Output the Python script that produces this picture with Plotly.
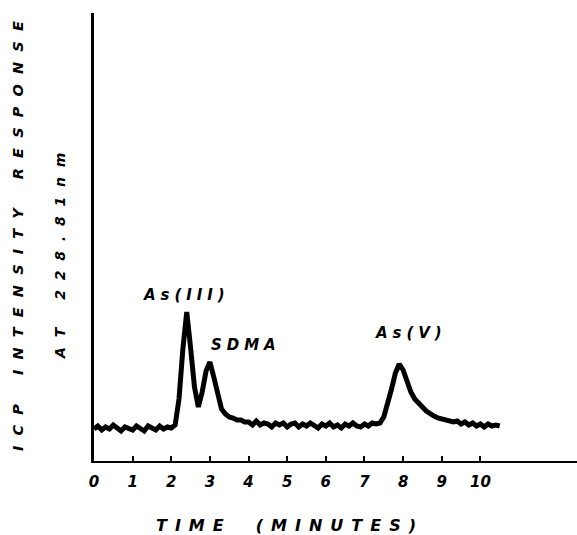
import plotly.graph_objects as go

# ---- data ----
time_min = [0.0, 0.1, 0.2, 0.3, 0.4, 0.5, 0.6, 0.7, 0.8, 0.9,
            1.0, 1.1, 1.2, 1.3, 1.4, 1.5, 1.6, 1.7, 1.8, 1.9,
            2.0, 2.1, 2.2, 2.3, 2.4, 2.5, 2.6, 2.7, 2.8, 2.9,
            3.0, 3.1, 3.2, 3.3, 3.4, 3.5, 3.6, 3.7, 3.8, 3.9,
            4.0, 4.1, 4.2, 4.3, 4.4, 4.5, 4.6, 4.7, 4.8, 4.9,
            5.0, 5.1, 5.2, 5.3, 5.4, 5.5, 5.6, 5.7, 5.8, 5.9,
            6.0, 6.1, 6.2, 6.3, 6.4, 6.5, 6.6, 6.7, 6.8, 6.9,
            7.0, 7.1, 7.2, 7.3, 7.4, 7.5, 7.6, 7.7, 7.8, 7.9,
            8.0, 8.1, 8.2, 8.3, 8.4, 8.5, 8.6, 8.7, 8.8, 8.9,
            9.0, 9.1, 9.2, 9.3, 9.4, 9.5, 9.6, 9.7, 9.8, 9.9,
            10.0, 10.1, 10.2, 10.3, 10.4, 10.5]

icp_response = [32, 35, 31, 34, 32, 36, 33, 30, 34, 33,
                31, 35, 33, 30, 35, 33, 31, 35, 32, 34,
                33, 36, 62, 112, 149, 113, 74, 54, 69, 90,
                99, 84, 66, 52, 47, 44, 43, 41, 41, 39,
                39, 36, 40, 36, 38, 37, 34, 38, 36, 38,
                34, 37, 38, 34, 37, 35, 38, 35, 33, 37,
                35, 38, 34, 36, 33, 37, 35, 38, 35, 34,
                37, 35, 38, 37, 38, 44, 56, 72, 88, 97,
                91, 80, 69, 62, 57, 54, 50, 47, 45, 43,
                42, 41, 40, 39, 40, 37, 39, 36, 38, 35,
                37, 34, 37, 35, 36, 35]

tick_values = [0, 1, 2, 3, 4, 5, 6, 7, 8, 9, 10]
tick_labels = ["0", "1", "2", "3", "4", "5", "6", "7", "8", "9", "10"]

peak_names = ["As(III)", "SDMA", "As(V)"]
peak_label_time = [2.33, 3.86, 8.15]
peak_label_level = [166, 116, 128]

x_title = "TIME  (MINUTES)"
y_title = "ICP  INTENSITY  RESPONSE"
y_subtitle = "AT  228.81nm"

# ---- styling ----
W, H = 577, 535
ML, MR, MT, MB = 94, 0, 13, 74
FONT = "DejaVu Sans"


def spaced(text, sep, word_sep):
    words = text.split("  ")
    return word_sep.join(sep.join(list(w)) for w in words)


def px(xp, yp):
    pw = W - ML - MR
    ph = H - MT - MB
    return (xp - ML) / pw, (H - MB - yp) / ph


fig = go.Figure()
fig.add_trace(go.Scatter(
    x=time_min, y=icp_response, mode="lines",
    line=dict(color="black", width=5),
    hoverinfo="skip", showlegend=False,
))

label_font = dict(family=FONT, size=15, color="black", weight="bold", style="italic")
for name, tx, ty in zip(peak_names, peak_label_time, peak_label_level):
    fig.add_annotation(
        x=tx, y=ty, xref="x", yref="y",
        text=spaced(name, "\u2004", "\u2003"),
        showarrow=False, font=label_font,
        xanchor="center", yanchor="middle",
    )

xt, yt = px(286, 525)
fig.add_annotation(
    x=xt, y=yt, xref="paper", yref="paper",
    text=spaced(x_title, "\u2002", "\u2003\u2003"),
    showarrow=False,
    font=dict(family=FONT, size=16, color="black", weight="bold", style="italic"),
    xanchor="center", yanchor="middle",
)

x1, y1 = px(18, 236)
fig.add_annotation(
    x=x1, y=y1, xref="paper", yref="paper",
    text=spaced(y_title, "\u2002\u2009", "\u2003\u2003"),
    textangle=-90, showarrow=False,
    font=dict(family=FONT, size=14.5, color="black", weight="bold", style="italic"),
    xanchor="center", yanchor="middle",
)

x2, y2 = px(60, 256)
fig.add_annotation(
    x=x2, y=y2, xref="paper", yref="paper",
    text=spaced(y_subtitle, "\u2002\u2009", "\u2003\u2003"),
    textangle=-90, showarrow=False,
    font=dict(family=FONT, size=14, color="black", weight="bold", style="italic"),
    xanchor="center", yanchor="middle",
)

fig.update_layout(
    width=W, height=H,
    margin=dict(l=ML, r=MR, t=MT, b=MB, pad=0),
    paper_bgcolor="white", plot_bgcolor="white",
    showlegend=False,
    xaxis=dict(
        range=[0, 12.5], showgrid=False, zeroline=False,
        showline=True, linecolor="black", linewidth=2,
        tickmode="array", tickvals=tick_values, ticktext=tick_labels,
        ticks="inside", ticklen=5, tickwidth=1.5, tickcolor="black",
        tickfont=dict(family=FONT, size=15, color="black", weight="bold", style="italic"),
        ticklabelstandoff=6,
    ),
    yaxis=dict(
        range=[0, 448], showgrid=False, zeroline=False,
        showline=True, linecolor="black", linewidth=2.5,
        ticks="", showticklabels=False,
    ),
)

fig.write_html(
    "out.html",
    config={"displayModeBar": False},
    post_script="document.body.style.margin='0px';document.body.style.padding='0px';",
)
